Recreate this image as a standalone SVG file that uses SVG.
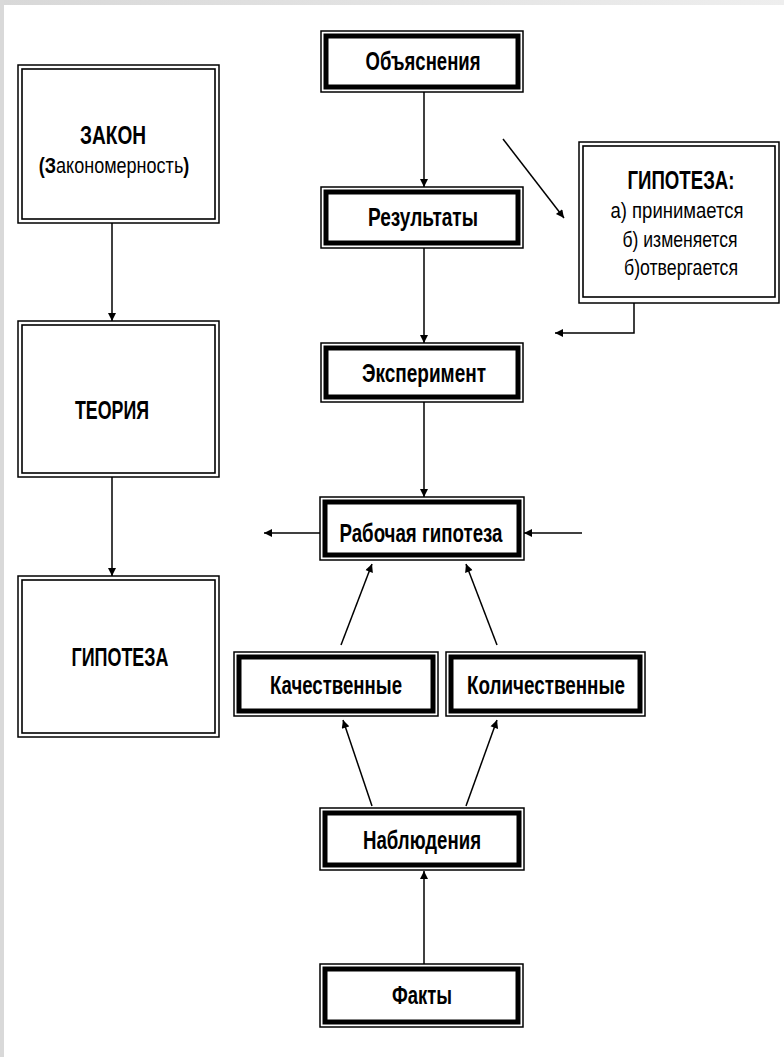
<svg xmlns="http://www.w3.org/2000/svg" width="784" height="1057" viewBox="0 0 784 1057">
<defs>
<linearGradient id="topg" x1="0" y1="0" x2="1" y2="0">
<stop offset="0" stop-color="#d8d8d8"/><stop offset="1" stop-color="#eeeeee"/>
</linearGradient>
<marker id="ah" viewBox="0 0 10 10" refX="10" refY="5" markerWidth="10" markerHeight="8" markerUnits="userSpaceOnUse" orient="auto">
<path d="M0,0 L10,5 L0,10 z" fill="#000"/>
</marker>
</defs>
<style>
.o{fill:#fff;stroke:#000;stroke-width:1.5}
.ti{fill:none;stroke:#000;stroke-width:5}
.di{fill:none;stroke:#000;stroke-width:1.6}
.t{font-family:"Liberation Sans",Arial,sans-serif;font-weight:bold;font-size:26px;text-anchor:middle;fill:#000}
.n{font-family:"Liberation Sans",Arial,sans-serif;font-size:22px;text-anchor:middle;fill:#000}
.c{stroke:#000;stroke-width:1.5;fill:none;marker-end:url(#ah)}
</style>
<rect width="784" height="1057" fill="#fff"/>
<rect x="0" y="0" width="784" height="5" fill="url(#topg)"/>
<rect x="0" y="0" width="4" height="1057" fill="#d9d9d9"/>

<g id="zakon">
<rect class="o" x="18" y="65" width="201" height="158"/>
<rect class="di" x="22" y="69" width="193" height="150"/>
<text class="t" x="113" y="144" font-size="24" textLength="66" lengthAdjust="spacingAndGlyphs">ЗАКОН</text>
<text class="n" transform="translate(114,173) scale(0.82,1)" x="0" y="0"><tspan font-weight="bold">(З</tspan>акономерность<tspan font-weight="bold">)</tspan></text>
</g>
<g id="teoriya">
<rect class="o" x="18" y="321" width="201" height="156"/>
<rect class="di" x="22" y="325" width="193" height="148"/>
<text class="t" x="112" y="419" font-size="24" textLength="74" lengthAdjust="spacingAndGlyphs">ТЕОРИЯ</text>
</g>
<g id="gipoteza-left">
<rect class="o" x="18" y="576" width="201" height="161"/>
<rect class="di" x="22" y="580" width="193" height="153"/>
<text class="t" x="120" y="666" font-size="24" textLength="97" lengthAdjust="spacingAndGlyphs">ГИПОТЕЗА</text>
</g>

<g id="obyasneniya">
<rect class="o" x="321" y="31" width="202" height="61"/>
<rect class="ti" x="326" y="36" width="192" height="51"/>
<text class="t" x="423" y="70" textLength="115" lengthAdjust="spacingAndGlyphs">Объяснения</text>
</g>
<g id="rezultaty">
<rect class="o" x="321" y="187" width="202" height="61"/>
<rect class="ti" x="326" y="192" width="192" height="51"/>
<text class="t" x="423" y="226" textLength="110" lengthAdjust="spacingAndGlyphs">Результаты</text>
</g>
<g id="gipoteza-right">
<rect class="o" x="579" y="142" width="200" height="161" stroke-width="2.5"/>
<rect class="di" x="583" y="146" width="192" height="151" stroke-width="1.2"/>
<text class="t" x="681" y="189" font-size="25" textLength="107" lengthAdjust="spacingAndGlyphs">ГИПОТЕЗА:</text>
<text class="n" x="677" y="218" textLength="133" lengthAdjust="spacingAndGlyphs">а) принимается</text>
<text class="n" x="680" y="247" textLength="115" lengthAdjust="spacingAndGlyphs">б) изменяется</text>
<text class="n" x="681" y="275" textLength="114" lengthAdjust="spacingAndGlyphs">б)отвергается</text>
</g>
<g id="eksperiment">
<rect class="o" x="321" y="343" width="202" height="59"/>
<rect class="ti" x="326" y="348" width="192" height="49"/>
<text class="t" x="424" y="382" textLength="124" lengthAdjust="spacingAndGlyphs">Эксперимент</text>
</g>
<g id="rabochaya">
<rect class="o" x="320" y="497" width="204" height="63"/>
<rect class="ti" x="325" y="502" width="194" height="53"/>
<text class="t" x="421" y="542" textLength="163" lengthAdjust="spacingAndGlyphs">Рабочая гипотеза</text>
</g>
<g id="kachestvennye">
<rect class="o" x="234" y="652" width="204" height="64"/>
<rect class="ti" x="239" y="657" width="194" height="54"/>
<text class="t" x="336" y="694" textLength="132" lengthAdjust="spacingAndGlyphs">Качественные</text>
</g>
<g id="kolichestvennye">
<rect class="o" x="446" y="652" width="199" height="64"/>
<rect class="ti" x="451" y="657" width="189" height="54"/>
<text class="t" x="546" y="694" textLength="158" lengthAdjust="spacingAndGlyphs">Количественные</text>
</g>
<g id="nablyudeniya">
<rect class="o" x="320" y="808" width="204" height="62"/>
<rect class="ti" x="325" y="813" width="194" height="52"/>
<text class="t" x="422" y="849" textLength="118" lengthAdjust="spacingAndGlyphs">Наблюдения</text>
</g>
<g id="fakty">
<rect class="o" x="320" y="964" width="203" height="63"/>
<rect class="ti" x="325" y="969" width="193" height="53"/>
<text class="t" x="422" y="1004" textLength="60" lengthAdjust="spacingAndGlyphs">Факты</text>
</g>

<g id="connectors">
<line class="c" x1="112" y1="223" x2="112" y2="321"/>
<line class="c" x1="112" y1="477" x2="112" y2="576"/>
<line class="c" x1="424" y1="92" x2="424" y2="187"/>
<line class="c" x1="503" y1="139" x2="564" y2="218"/>
<line class="c" x1="424" y1="248" x2="424" y2="343"/>
<polyline class="c" points="634,303 634,333 555,333" stroke-width="2"/>
<line class="c" x1="424" y1="402" x2="424" y2="497"/>
<line class="c" x1="320" y1="533" x2="264" y2="533" stroke-width="2"/>
<line class="c" x1="582" y1="533" x2="524" y2="533" stroke-width="2"/>
<line class="c" x1="341" y1="645" x2="372" y2="564"/>
<line class="c" x1="497" y1="645" x2="466" y2="564"/>
<line class="c" x1="372" y1="806" x2="343" y2="720"/>
<line class="c" x1="466" y1="806" x2="497" y2="720"/>
<line class="c" x1="424" y1="964" x2="424" y2="871"/>
</g>
</svg>
